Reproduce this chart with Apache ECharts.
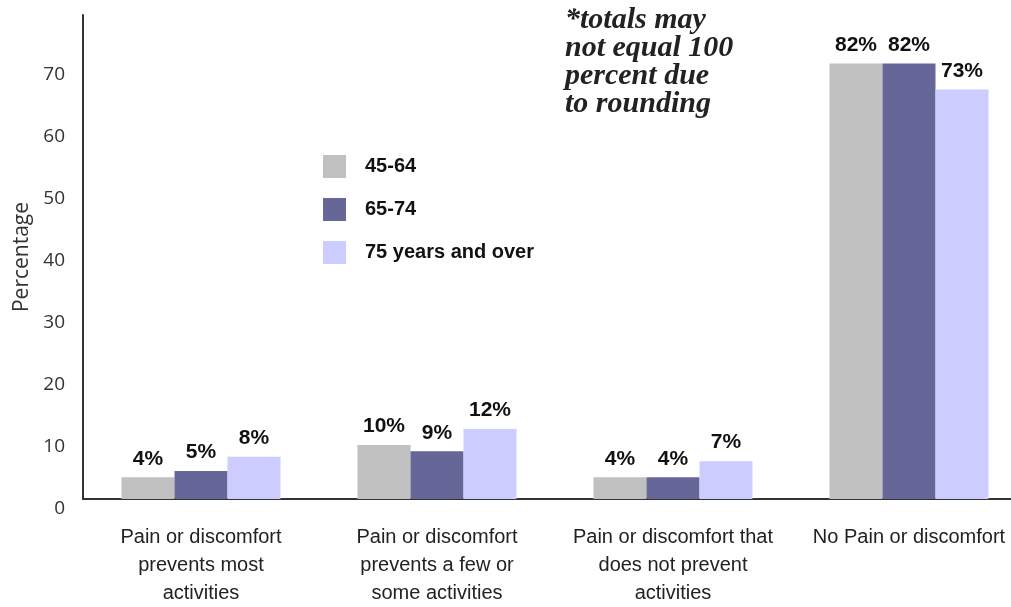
<!DOCTYPE html>
<html>
<head>
<meta charset="utf-8">
<script src="https://cdn.jsdelivr.net/npm/echarts@6/dist/echarts.min.js"></script>
<style>
html,body{margin:0;padding:0;background:#fff;overflow:hidden;width:1011px;height:607px;}
#chart{width:1027px;height:607px;}
</style>
</head>
<body>
<div id="chart"></div>
<script>
var categories = [
  'Pain or discomfort\nprevents most\nactivities',
  'Pain or discomfort\nprevents a few or\nsome activities',
  'Pain or discomfort that\ndoes not prevent\nactivities',
  'No Pain or discomfort'
];
var seriesNames = ['45-64', '65-74', '75 years and over'];
// bar heights as drawn in the picture (axis units)
var values4564 = [3.5, 8.7, 3.5, 70.2];
var values6574 = [4.5, 7.7, 3.5, 70.2];
var values75up = [6.8, 11.3, 6.1, 66.0];
// printed labels
var labels4564 = ['4%', '10%', '4%', '82%'];
var labels6574 = ['5%', '9%', '4%', '82%'];
var labels75up = ['8%', '12%', '7%', '73%'];
var yTicks = [0, 10, 20, 30, 40, 50, 60, 70];
var noteLines = ['*totals may', 'not equal 100', 'percent due', 'to rounding'];
var colors = ['#c0c0c0', '#666699', '#ccccff'];

var chart = echarts.init(document.getElementById('chart'), null, {renderer: 'canvas'});

function makeSeries(name, vals, labs, color) {
  return {
    name: name,
    type: 'bar',
    data: vals,
    barWidth: 53,
    barGap: '0%',
    itemStyle: {color: color},
    label: {
      show: true,
      position: 'top',
      distance: 8,
      fontFamily: 'Liberation Sans',
      fontWeight: 'bold',
      fontSize: 21,
      color: '#111',
      formatter: function (p) { return labs[p.dataIndex]; }
    }
  };
}

chart.setOption({
  animation: false,
  backgroundColor: '#fff',
  grid: {left: 83, right: 0, top: 15, bottom: 108, containLabel: false},
  legend: {
    orient: 'vertical',
    left: 323,
    top: 155,
    padding: 0,
    itemWidth: 23,
    itemHeight: 23,
    itemGap: 20,
    icon: 'rect',
    data: seriesNames,
    textStyle: {
      fontFamily: 'Liberation Sans',
      fontWeight: 'bold',
      fontSize: 20,
      color: '#111',
      padding: [0, 0, 0, 14]
    }
  },
  xAxis: {
    type: 'category',
    data: categories,
    axisLine: {lineStyle: {color: '#333', width: 2}},
    axisTick: {show: false},
    axisLabel: {
      interval: 0,
      margin: 24,
      fontFamily: 'Liberation Sans',
      fontSize: 20,
      lineHeight: 28,
      color: '#222'
    }
  },
  yAxis: {
    type: 'value',
    min: 0,
    max: 78,
    interval: 10,
    name: 'Percentage',
    nameLocation: 'middle',
    nameGap: 49,
    nameTextStyle: {fontFamily: 'Open Sans', fontSize: 21, color: '#333'},
    axisLine: {show: true, lineStyle: {color: '#333', width: 2}},
    axisTick: {show: false},
    splitLine: {show: false},
    axisLabel: {
      margin: 18,
      fontFamily: 'Open Sans',
      fontSize: 19,
      color: '#333',
      showMaxLabel: false,
      verticalAlign: 'top',
      formatter: function (v) { return yTicks.indexOf(v) >= 0 ? String(v) : ''; }
    }
  },
  graphic: [{
    type: 'text',
    left: 565,
    top: 5,
    style: {
      text: noteLines.join('\n'),
      font: 'italic bold 30px "Liberation Serif"',
      lineHeight: 28,
      fill: '#222'
    }
  }],
  series: [
    makeSeries(seriesNames[0], values4564, labels4564, colors[0]),
    makeSeries(seriesNames[1], values6574, labels6574, colors[1]),
    makeSeries(seriesNames[2], values75up, labels75up, colors[2])
  ]
});
</script>
</body>
</html>
